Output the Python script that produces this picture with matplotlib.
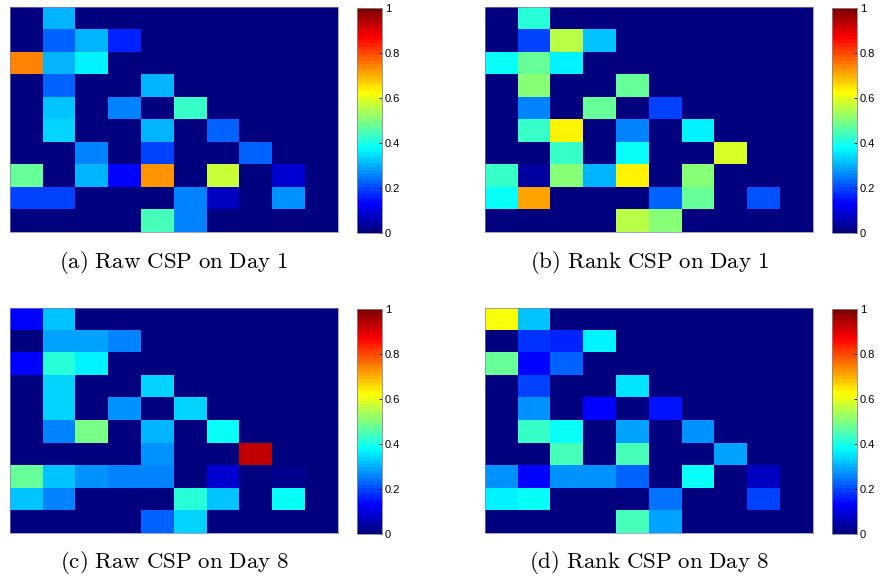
import numpy as np
import matplotlib
matplotlib.use("Agg")
import matplotlib.pyplot as plt
from matplotlib.colors import LinearSegmentedColormap

plt.rcParams["mathtext.fontset"] = "cm"

# ── CSP matrices (10 x 10), values ──
raw_day1 = [
    [0, 0.30, 0, 0, 0, 0, 0, 0, 0, 0],
    [0, 0.22, 0.30, 0.17, 0, 0, 0, 0, 0, 0],
    [0.74, 0.31, 0.37, 0, 0, 0, 0, 0, 0, 0],
    [0, 0.22, 0, 0, 0.31, 0, 0, 0, 0, 0],
    [0, 0.325, 0, 0.26, 0, 0.425, 0, 0, 0, 0],
    [0, 0.34, 0, 0, 0.31, 0, 0.23, 0, 0, 0],
    [0, 0, 0.26, 0, 0.20, 0, 0, 0.225, 0, 0],
    [0.48, 0, 0.305, 0.14, 0.72, 0, 0.575, 0, 0.0875, 0],
    [0.19, 0.19, 0, 0, 0, 0.25, 0.0625, 0, 0.28, 0],
    [0, 0, 0, 0, 0.44, 0.26, 0, 0, 0, 0],
]
rank_day1 = [
    [0, 0.41, 0, 0, 0, 0, 0, 0, 0, 0],
    [0, 0.19, 0.55, 0.325, 0, 0, 0, 0, 0, 0],
    [0.39, 0.475, 0.36, 0, 0, 0, 0, 0, 0, 0],
    [0, 0.51, 0, 0, 0.475, 0, 0, 0, 0, 0],
    [0, 0.25, 0, 0.475, 0, 0.19, 0, 0, 0, 0],
    [0, 0.425, 0.64, 0, 0.26, 0, 0.36, 0, 0, 0],
    [0, 0, 0.425, 0, 0.39, 0, 0, 0.59, 0, 0],
    [0.425, 0.04, 0.50, 0.31, 0.625, 0, 0.515, 0, 0, 0],
    [0.39, 0.705, 0, 0, 0, 0.23, 0.47, 0, 0.21, 0],
    [0, 0, 0, 0, 0.55, 0.50, 0, 0, 0, 0],
]
raw_day8 = [
    [0.14, 0.325, 0, 0, 0, 0, 0, 0, 0, 0],
    [0, 0.295, 0.295, 0.25, 0, 0, 0, 0, 0, 0],
    [0.14, 0.41, 0.36, 0, 0, 0, 0, 0, 0, 0],
    [0, 0.33, 0, 0, 0.34, 0, 0, 0, 0, 0],
    [0, 0.33, 0, 0.28, 0, 0.34, 0, 0, 0, 0],
    [0, 0.26, 0.49, 0, 0.31, 0, 0.375, 0, 0, 0],
    [0, 0, 0, 0, 0.275, 0, 0, 0.925, 0, 0],
    [0.48, 0.325, 0.275, 0.26, 0.26, 0, 0.0875, 0, 0.025, 0],
    [0.325, 0.25, 0, 0, 0, 0.41, 0.325, 0, 0.39, 0],
    [0, 0, 0, 0, 0.225, 0.34, 0, 0, 0, 0],
]
rank_day8 = [
    [0.61, 0.325, 0, 0, 0, 0, 0, 0, 0, 0],
    [0, 0.175, 0.17, 0.36, 0, 0, 0, 0, 0, 0],
    [0.47, 0.14, 0.225, 0, 0, 0, 0, 0, 0, 0],
    [0, 0.19, 0, 0, 0.35, 0, 0, 0, 0, 0],
    [0, 0.275, 0, 0.125, 0, 0.155, 0, 0, 0, 0],
    [0, 0.425, 0.39, 0, 0.295, 0, 0.275, 0, 0, 0],
    [0, 0, 0.44, 0, 0.44, 0, 0, 0.295, 0, 0],
    [0.275, 0.14, 0.28, 0.28, 0.23, 0, 0.375, 0, 0.075, 0],
    [0.36, 0.375, 0, 0, 0, 0.24, 0, 0, 0.19, 0],
    [0, 0, 0, 0, 0.44, 0.29, 0, 0, 0, 0],
]
captions = ["(a) Raw CSP on Day 1", "(b) Rank CSP on Day 1",
            "(c) Raw CSP on Day 8", "(d) Rank CSP on Day 8"]
cbar_ticks = [0, 0.2, 0.4, 0.6, 0.8, 1]
cbar_labels = ["0", "0.2", "0.4", "0.6", "0.8", "1"]

W, H = 880, 581
fig = plt.figure(figsize=(W / 100, H / 100), dpi=100)

# MATLAB-style jet, 64 levels
jet_pts = [(0.0, (0, 0, 0.5)), (0.125, (0, 0, 1)), (0.375, (0, 1, 1)),
           (0.625, (1, 1, 0)), (0.875, (1, 0, 0)), (1.0, (0.5, 0, 0))]
cmap = LinearSegmentedColormap.from_list("mjet", jet_pts, N=64)

def px_axes(x0, y0, x1, y1):
    return fig.add_axes([x0 / W, 1 - y1 / H, (x1 - x0) / W, (y1 - y0) / H])

panels = [raw_day1, rank_day1, raw_day8, rank_day8]
lefts = [10, 485]
tops = [7, 308]

for i, (mat, cap) in enumerate(zip(panels, captions)):
    x0 = lefts[i % 2]
    y0 = tops[i // 2]
    ax = px_axes(x0, y0, x0 + 328, y0 + 225)
    im = ax.imshow(np.array(mat), cmap=cmap, vmin=0, vmax=1,
                   aspect="auto", interpolation="nearest")
    ax.set_xticks([])
    ax.set_yticks([])
    for s in ax.spines.values():
        s.set_color("#7f7fbf")
        s.set_linewidth(0.5)

    cax = px_axes(x0 + 347, y0 + 1, x0 + 372, y0 + 226)
    cb = fig.colorbar(im, cax=cax, ticks=cbar_ticks)
    cb.ax.set_yticklabels(cbar_labels, fontfamily="Liberation Sans", fontsize=8)
    cb.ax.tick_params(direction="in", length=2.5, width=0.6, pad=2)
    cb.outline.set_edgecolor("#888888")
    cb.outline.set_linewidth(0.6)

    fig.text((x0 + 164) / W, 1 - (y0 + 255) / H,
             r"$\mathrm{" + cap.replace(" ", r"\ ") + "}$",
             ha="center", va="center", fontsize=16.5)

plt.savefig("out.png", dpi=100)
